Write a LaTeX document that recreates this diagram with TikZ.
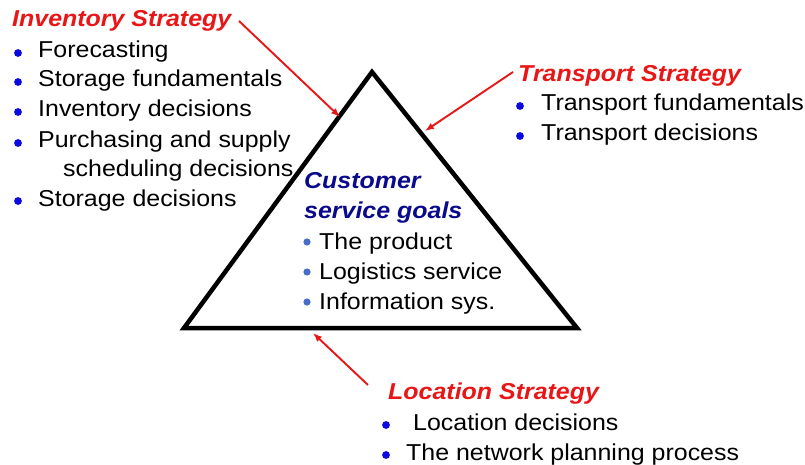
\documentclass[tikz,border=0pt]{standalone}
\usepackage{fontspec}
\setmainfont{Liberation Sans}[FakeStretch=1.085]
\usetikzlibrary{arrows.meta}
\definecolor{stratred}{RGB}{232,22,22}
\definecolor{bulblue}{RGB}{10,10,225}
\definecolor{navy}{RGB}{10,10,140}
\definecolor{lblue}{RGB}{70,110,200}
\tikzset{
  txt/.style={anchor=base west, inner sep=0pt, font=\fontsize{23}{28}\selectfont, text=black},
  head/.style={txt, text=stratred, font=\fontsize{23}{28}\selectfont\bfseries\itshape},
  csg/.style={txt, text=navy, font=\fontsize{23}{28}\selectfont\bfseries\itshape},
  bul/.style={fill=bulblue},
  ibul/.style={fill=lblue},
  redarrow/.style={draw=stratred, line width=1.9pt, -{Latex[length=9pt,width=7pt]}},
  tri/.style={draw=black, line width=4.5pt, line join=miter}
}
\begin{document}
\begin{tikzpicture}[x=1pt,y=-1pt]
\useasboundingbox (0,0) rectangle (805,465);
% triangle
\coordinate (apex) at (372,72);
\coordinate (bl) at (184,328);
\coordinate (br) at (577,328);
\draw[tri] (apex) -- (bl) -- (br) -- cycle;

% Inventory strategy
\node[head] (inv) at (12,27) {Inventory Strategy};
\fill[bul] (18,53) circle (3.9);
\node[txt] (i1) at (38,58) {Forecasting};
\fill[bul] (18,82) circle (3.9);
\node[txt] (i2) at (38,87) {Storage fundamentals};
\fill[bul] (18,112) circle (3.9);
\node[txt] (i3) at (38,117) {Inventory decisions};
\fill[bul] (18,143) circle (3.9);
\node[txt] (i4) at (38,148) {Purchasing and supply};
\node[txt] (i4b) at (63,176) {scheduling decisions};
\fill[bul] (18,201) circle (3.9);
\node[txt] (i5) at (38,206) {Storage decisions};

% Transport strategy
\node[head] (tra) at (518,82) {Transport Strategy};
\fill[bul] (520,106) circle (3.9);
\node[txt] (t1) at (541,111) {Transport fundamentals};
\fill[bul] (520,136) circle (3.9);
\node[txt] (t2) at (541,141) {Transport decisions};

% Customer service goals
\node[csg] (c1) at (304,189) {Customer};
\node[csg] (c2) at (304,218) {service goals};
\fill[ibul] (307,242) circle (3.6);
\node[txt] (g1) at (319,249) {The product};
\fill[ibul] (307,272) circle (3.6);
\node[txt] (g2) at (319,279) {Logistics service};
\fill[ibul] (307,302) circle (3.6);
\node[txt] (g3) at (319,309) {Information sys.};

% Location strategy
\node[head] (loc) at (388,399) {Location Strategy};
\fill[bul] (386,425) circle (3.9);
\node[txt] (l1) at (413,430) {Location decisions};
\fill[bul] (386,455) circle (3.9);
\node[txt] (l2) at (406,460) {The network planning process};

% arrows
\coordinate (invs) at (239,21);
\coordinate (invt) at (340,117);
\coordinate (tras) at (513,72);
\coordinate (trat) at (425,131);
\coordinate (locs) at (368,385);
\coordinate (loct) at (313,333);
\draw[redarrow] (invs) -- (invt);
\draw[redarrow] (tras) -- (trat);
\draw[redarrow] (locs) -- (loct);
\end{tikzpicture}
\end{document}
